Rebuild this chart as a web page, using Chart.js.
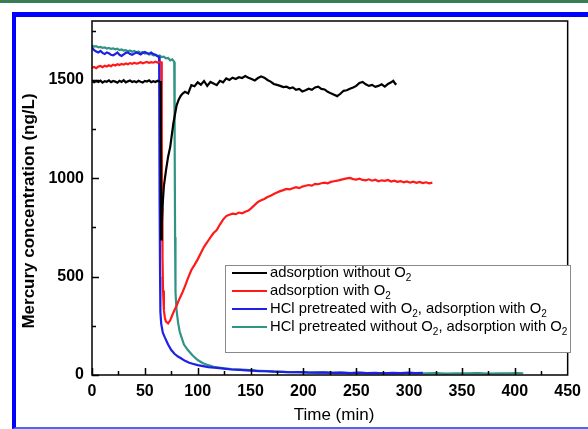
<!DOCTYPE html>
<html>
<head>
<meta charset="utf-8">
<script src="https://cdn.jsdelivr.net/npm/chart.js@4/dist/chart.umd.min.js"></script>
<style>
  html, body { margin: 0; padding: 0; background: #fff; overflow: hidden; }
  #topRule { position: absolute; left: 0; top: 0; width: 588px; height: 3px; background: #3b7d52; }
  #frame { position: absolute; left: 12px; top: 12px; width: 600px; height: 410px;
           border-left: 4px solid #0000ff; border-top: 5px solid #0000ff; border-bottom: 2px solid #4a66ff; }
  #wrap { position: absolute; left: 0; top: 0; width: 588px; height: 429px; }
</style>
</head>
<body>
<div id="topRule"></div>
<div id="frame"></div>
<div id="wrap"><canvas id="hgChart"></canvas></div>
<script>
const FONT = "Arial, 'Liberation Sans', sans-serif";

// tick labels shown on the axes, minor tick spacing between them
const xTickLabels = [0, 50, 100, 150, 200, 250, 300, 350, 400, 450];
const yTickLabels = [0, 500, 1000, 1500];
const xMinorStep = 25;
const yMinorStep = 250;

// adsorption without O2
const blackTime = [0, 2, 4, 6, 8, 10, 12, 14, 16, 18, 20, 22, 24, 26, 28, 30, 32, 34, 36, 38, 40, 42, 44, 46, 48, 50, 52, 54, 56, 58, 60, 62, 64, 65,
  65.3, 66, 67, 68, 70, 72, 74, 77, 80, 82, 84, 86, 88, 91, 94, 97, 100, 103, 106, 109, 112, 115, 118, 121, 124, 127, 130, 133, 136, 139, 142, 145,
  148, 151, 154, 157, 160, 163, 166, 169, 172, 175, 178, 181, 184, 187, 190, 193, 196, 199, 202, 205, 208, 211, 214, 217, 220, 223, 226, 229, 232,
  235, 238, 241, 244, 247, 250, 253, 256, 259, 262, 265, 268, 271, 274, 277, 280, 283, 285, 287, 288];
const blackConc = [1493, 1488, 1495, 1490, 1497, 1487, 1494, 1491, 1498, 1489, 1495, 1492, 1486, 1496, 1490, 1499, 1488, 1493, 1497, 1490, 1494, 1489, 1496, 1491, 1487, 1495, 1492, 1498, 1489, 1494, 1490, 1496, 1491, 1490,
  690, 770, 880, 960, 1040, 1110, 1160, 1280, 1370, 1400, 1420, 1432, 1440, 1432, 1474, 1468, 1488, 1476, 1495, 1470, 1490, 1482, 1474, 1496, 1488, 1508, 1500, 1512, 1505, 1514, 1510, 1520,
  1512, 1505, 1498, 1510, 1518, 1512, 1500, 1492, 1480, 1475, 1470, 1464, 1466, 1458, 1462, 1450, 1455, 1442, 1448, 1456, 1450, 1462, 1466, 1455, 1452, 1440, 1432, 1425, 1418,
  1430, 1445, 1448, 1455, 1462, 1470, 1485, 1490, 1478, 1470, 1475, 1465, 1470, 1478, 1466, 1480, 1488, 1496, 1480, 1476];

// adsorption with O2
const redTime = [0, 2, 4, 6, 8, 10, 12, 14, 16, 18, 20, 22, 24, 26, 28, 30, 32, 34, 36, 38, 40, 42, 44, 46, 48, 50, 52, 54, 56, 58, 60, 62, 64, 65.8,
  66, 66.3, 66.7, 67.2, 68, 69, 70, 72, 74, 76, 78, 80, 82, 84, 86, 88, 91, 94, 97, 100, 103, 106, 109, 112, 115, 118, 121, 124, 127, 130, 133, 136,
  139, 142, 145, 148, 151, 154, 157, 160, 163, 166, 169, 172, 175, 178, 181, 184, 187, 190, 193, 196, 199, 202, 205, 208, 211, 214, 217, 220, 223,
  226, 229, 232, 235, 238, 241, 244, 247, 250, 253, 256, 259, 262, 265, 268, 271, 274, 277, 280, 283, 286, 289, 292, 295, 298, 301, 304, 307, 310,
  313, 316, 319, 322];
const redConc = [1562, 1566, 1560, 1568, 1571, 1565, 1573, 1569, 1575, 1570, 1578, 1574, 1580, 1576, 1582, 1578, 1584, 1580, 1586, 1582, 1588, 1583, 1586, 1590, 1585, 1589, 1592, 1587, 1591, 1588, 1593, 1589, 1592, 1590,
  1250, 850, 600, 430, 330, 290, 272, 263, 278, 305, 330, 352, 378, 402, 425, 452, 495, 534, 560, 588, 620, 652, 675, 700, 722, 737, 765, 790, 808, 815, 820, 818,
  826, 822, 830, 836, 850, 865, 880, 888, 895, 905, 912, 920, 928, 935, 940, 946, 944, 950, 955, 950, 958, 962, 966, 963, 972, 970, 975, 978, 975,
  982, 985, 988, 992, 996, 1000, 1002, 996, 994, 998, 992, 990, 995, 988, 993, 985, 990, 987, 992, 984, 988, 982, 986, 980, 984, 978, 983, 977, 982,
  976, 980, 975, 978];

// HCl pretreated with O2, adsorption with O2
const blueTime = [0, 2, 4, 6, 8, 10, 12, 14, 16, 18, 20, 22, 24, 26, 28, 30, 32, 34, 36, 38, 40, 42, 44, 46, 48, 50, 52, 54, 56, 58, 60, 62, 63.5,
  63.8, 64.1, 64.4, 64.7, 65.5, 67, 69, 72, 75, 78, 81, 84.5, 88, 92, 96, 100, 105, 110, 118, 125, 132, 140, 146, 152, 158, 165, 172, 180, 188, 196,
  204, 212, 220, 228, 236, 244, 252, 260, 268, 276, 284, 292, 300, 306, 313];
const blueConc = [1665, 1652, 1645, 1640, 1648, 1638, 1632, 1640, 1636, 1628, 1625, 1632, 1640, 1628, 1622, 1630, 1638, 1640, 1632, 1628, 1634, 1640, 1636, 1630, 1638, 1642, 1636, 1634, 1640, 1632, 1628, 1622, 1618,
  1300, 900, 500, 320, 260, 215, 190, 155, 127, 108, 95, 84, 72, 62, 56, 50, 45, 40, 36, 32, 28, 26, 24, 22, 20, 19, 17, 16, 14, 15,
  13, 12, 13, 11, 12, 10, 12, 10, 11, 9, 11, 10, 12, 10, 11];

// HCl pretreated without O2, adsorption with O2
const tealTime = [0, 2, 4, 6, 8, 10, 12, 14, 16, 18, 20, 22, 24, 26, 28, 30, 32, 34, 36, 38, 40, 42, 44, 46, 48, 50, 52, 54, 56, 58, 60, 62, 64, 66,
  68, 70, 72, 74, 76, 77.8, 78.2, 78.6, 79, 80, 81.5, 83, 84.5, 87, 90.7, 95, 100, 105, 110, 115, 120, 125, 132, 140, 146, 155, 165, 175, 185, 195,
  205, 215, 225, 235, 245, 255, 265, 275, 285, 295, 305, 315, 325, 335, 345, 355, 365, 375, 385, 395, 402, 408];
const tealConc = [1675, 1670, 1672, 1666, 1668, 1664, 1666, 1660, 1663, 1658, 1661, 1656, 1659, 1652, 1655, 1650, 1652, 1646, 1650, 1644, 1648, 1640, 1645, 1638, 1642, 1634, 1637, 1630, 1633, 1626, 1628, 1620, 1624, 1616,
  1618, 1610, 1612, 1600, 1605, 1592, 1200, 700, 420, 330, 264, 220, 195, 155, 127, 100, 76, 60, 50, 42, 38, 34, 30, 28, 26, 22, 20, 17, 15, 14,
  12, 13, 11, 12, 10, 11, 9, 10, 8, 10, 9, 8, 10, 7, 9, 8, 10, 7, 9, 8, 10, 9];

const seriesLabels = [
  "adsorption without O₂",
  "adsorption with O₂",
  "HCl pretreated with O₂, adsorption with O₂",
  "HCl pretreated without O₂, adsorption with O₂"
];
const seriesColors = ["#000000", "#ff1a1a", "#1f1fe6", "#2f9484"];

const toPoints = (t, c) => t.map((v, i) => ({ x: v, y: c[i] }));
const seriesData = [
  toPoints(blackTime, blackConc),
  toPoints(redTime, redConc),
  toPoints(blueTime, blueConc),
  toPoints(tealTime, tealConc)
];

// draws the box frame, inward tick marks, axis titles and the legend
const frameAndLegend = {
  id: "frameAndLegend",
  afterDraw(chart) {
    const { ctx, chartArea: a, scales: { x, y } } = chart;
    ctx.save();
    ctx.strokeStyle = "#000";
    ctx.lineWidth = 1.5;
    ctx.beginPath();
    for (let v = x.min; v < x.max; v += xMinorStep) {
      const px = Math.round(x.getPixelForValue(v)) + 0.5;
      const len = xTickLabels.includes(v) ? 7 : 4;
      ctx.moveTo(px, a.bottom);
      ctx.lineTo(px, a.bottom - len);
    }
    for (let v = y.min; v < y.max; v += yMinorStep) {
      const py = Math.round(y.getPixelForValue(v)) + 0.5;
      const len = yTickLabels.includes(v) ? 7 : 4;
      ctx.moveTo(a.left, py);
      ctx.lineTo(a.left + len, py);
    }
    ctx.stroke();
    ctx.strokeRect(a.left, a.top, a.right - a.left, a.bottom - a.top);

    // axis titles
    ctx.fillStyle = "#000";
    ctx.textAlign = "center";
    ctx.textBaseline = "middle";
    ctx.font = "17px " + FONT;
    ctx.fillText("Time (min)", 334, 415);
    ctx.save();
    ctx.translate(29, 211);
    ctx.rotate(-Math.PI / 2);
    ctx.font = "bold 17px " + FONT;
    ctx.fillText("Mercury concentration (ng/L)", 0, 0);
    ctx.restore();

    // legend
    const box = { left: 225, top: 265, right: 570, bottom: 352 };
    ctx.fillStyle = "#fff";
    ctx.fillRect(box.left, box.top, box.right - box.left, box.bottom - box.top);
    ctx.strokeStyle = "#8a8a8a";
    ctx.lineWidth = 1;
    ctx.strokeRect(box.left + 0.5, box.top + 0.5, box.right - box.left, box.bottom - box.top);
    ctx.textAlign = "left";
    ctx.textBaseline = "middle";
    chart.data.datasets.forEach((ds, i) => {
      const ly = 273 + i * 18;
      ctx.strokeStyle = ds.borderColor;
      ctx.lineWidth = 2;
      ctx.beginPath();
      ctx.moveTo(232, ly);
      ctx.lineTo(267, ly);
      ctx.stroke();
      ctx.fillStyle = "#000";
      let tx = 270;
      const parts = ds.label.split("₂");
      parts.forEach((p, k) => {
        ctx.font = "14.8px " + FONT;
        ctx.fillText(p, tx, ly);
        tx += ctx.measureText(p).width;
        if (k < parts.length - 1) {
          ctx.font = "10px " + FONT;
          ctx.fillText("2", tx, ly + 5);
          tx += ctx.measureText("2").width;
        }
      });
    });
    ctx.restore();
  }
};

new Chart(document.getElementById("hgChart"), {
  type: "line",
  data: {
    datasets: seriesData.map((d, i) => ({
      label: seriesLabels[i],
      data: d,
      borderColor: seriesColors[i],
      borderWidth: 2.2,
      pointRadius: 0,
      tension: 0,
      order: i
    }))
  },
  options: {
    responsive: true,
    maintainAspectRatio: false,
    animation: false,
    events: [],
    layout: { autoPadding: false, padding: { left: 0, top: 21, right: 10, bottom: 0 } },
    plugins: { legend: { display: false }, tooltip: { enabled: false } },
    scales: {
      x: {
        type: "linear",
        min: 0,
        max: 450,
        grid: { display: false, drawTicks: false },
        border: { display: false },
        afterFit(scale) { scale.height = 54; },
        afterBuildTicks(scale) { scale.ticks = xTickLabels.map(v => ({ value: v })); },
        ticks: {
          padding: 7,
          maxRotation: 0,
          autoSkip: false,
          color: "#000",
          font: { family: FONT, size: 16, weight: "bold" },
          callback: v => String(v)
        }
      },
      y: {
        type: "linear",
        min: 0,
        max: 1800,
        grid: { display: false, drawTicks: false },
        border: { display: false },
        afterFit(scale) { scale.width = 92; },
        afterBuildTicks(scale) { scale.ticks = yTickLabels.map(v => ({ value: v })); },
        ticks: {
          padding: 8,
          autoSkip: false,
          color: "#000",
          font: { family: FONT, size: 16, weight: "bold" },
          callback: v => String(v)
        }
      }
    }
  },
  plugins: [frameAndLegend]
});
</script>
</body>
</html>
